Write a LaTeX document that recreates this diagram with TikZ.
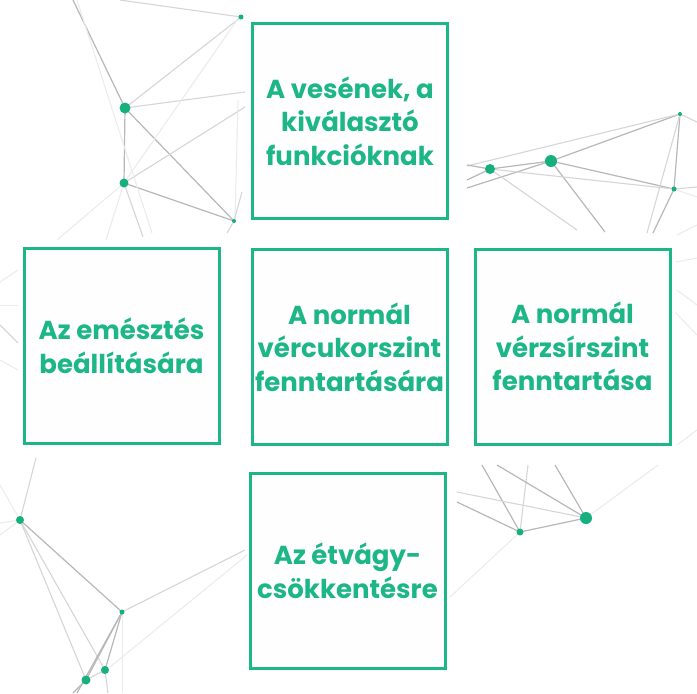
\documentclass[tikz,border=0pt]{standalone}
\usepackage{fontspec}
\setmainfont{Poppins}[BoldFont={Poppins Bold}]
\definecolor{mint}{RGB}{28,182,135}
\definecolor{dotc}{RGB}{22,176,126}
\definecolor{boxfill}{RGB}{254,254,254}
\tikzset{
  net/.style={draw=black!28,line width=0.6pt},
  netl/.style={draw=black!16,line width=0.55pt},
  netf/.style={draw=black!8,line width=0.5pt},
  hub/.style={fill=dotc,draw=none},
  card/.style={draw=mint,line width=1.5pt,fill=boxfill,minimum width=97.5pt,minimum height=97.5pt,
    align=center,text=mint,font=\fontsize{13}{16.8}\selectfont\bfseries,inner sep=0pt},
}
\begin{document}
\begin{tikzpicture}[x=0.5pt,y=-0.5pt]
\fill[white] (0,0) rectangle (697,693);
\useasboundingbox (0,0) rectangle (697,693);
% ---- top-left cluster
\coordinate (A) at (125,108);
\coordinate (B) at (124,183);
\coordinate (C) at (234,221);
\coordinate (D) at (241,17);
\draw[net] (73,0) -- (A);
\draw[netl] (120,0) -- (D);
\draw[netl] (A) -- (D);
\draw[netl] (A) -- (245,92);
\draw[net] (A) -- (B);
\draw[net] (A) -- (C);
\draw[net] (B) -- (C);
\draw[netl] (B) -- (245,107);
\draw[netf] (77,0) -- (152,233);
\draw[netf] (237,20) -- (B);
\draw[netf] (B) -- (57,240);
\draw[netf] (B) -- (106,240);
\draw[netl] (B) -- (143,237);
\draw[netf] (238,100) -- (235,220);
\draw[netl] (C) -- (242,192);
\draw[netl] (C) -- (227,233);
% ---- top-right cluster
\coordinate (E) at (490,169);
\coordinate (F) at (551,161);
\coordinate (G) at (680,114);
\coordinate (H) at (674,189);
\draw[net] (E) -- (F);
\draw[net] (F) -- (G);
\draw[netl] (467,166) -- (G);
\draw[net] (467,165) -- (E);
\draw[net] (E) -- (467,180);
\draw[net] (F) -- (467,188);
\draw[net] (F) -- (605,232);
\draw[netl] (E) -- (577,230);
\draw[net] (F) -- (H);
\draw[netl] (E) -- (H);
\draw[net] (G) -- (H);
\draw[netl] (G) -- (647,233);
\draw[net] (H) -- (653,233);
\draw[netl] (G) -- (697,122);
\draw[netl] (H) -- (697,187);
\draw[netf] (H) -- (697,197);
% right edge
\draw[netf] (677,235) -- (697,225);
\draw[netf] (676,262) -- (697,258);
\draw[netf] (677,290) -- (697,305);
\draw[netf] (675,312) -- (697,335);
\draw[netf] (677,445) -- (697,430);
% left edge
\draw[netf] (0,282) -- (18,270);
\draw[netf] (0,305) -- (18,305);
\draw[netl] (0,325) -- (18,343);
\draw[netf] (0,360) -- (18,370);
% ---- bottom-right cluster
\coordinate (I) at (520,532);
\coordinate (J) at (586,518);
\draw[net] (I) -- (J);
\draw[net] (I) -- (482,465);
\draw[netl] (I) -- (528,465);
\draw[net] (J) -- (497,465);
\draw[net] (J) -- (555,465);
\draw[netl] (J) -- (457,492);
\draw[net] (I) -- (457,502);
\draw[netf] (J) -- (658,465);
\draw[netf] (I) -- (450,597);
% ---- bottom-left cluster
\coordinate (K) at (20,520);
\coordinate (L) at (122,612);
\coordinate (M) at (105,670);
\coordinate (N) at (86,680);
\draw[netl] (K) -- (36,458);
\draw[netf] (K) -- (0,485);
\draw[netf] (K) -- (0,523);
\draw[netf] (K) -- (0,535);
\draw[net] (K) -- (L);
\draw[netl] (K) -- (N);
\draw[netl] (K) -- (M);
\draw[netl] (L) -- (245,550);
\draw[netf] (110,667) -- (247,555);
\draw[net] (L) -- (N);
\draw[net] (L) -- (M);
\draw[netf] (L) -- (122,693);
\draw[net] (N) -- (73,693);
\draw[netl] (M) -- (108,693);
\draw[net] (L) -- (77,693);
\draw[netl] (N) -- (M);
% ---- dots
\fill[hub] (A) circle (5.5);
\fill[hub] (B) circle (4.5);
\fill[hub] (C) circle (2);
\fill[hub] (D) circle (2.5);
\fill[hub] (E) circle (5);
\fill[hub] (F) circle (6);
\fill[hub] (G) circle (2);
\fill[hub] (H) circle (2.5);
\fill[hub] (I) circle (3.5);
\fill[hub] (J) circle (6);
\fill[hub] (K) circle (4);
\fill[hub] (L) circle (2.5);
\fill[hub] (M) circle (4);
\fill[hub] (N) circle (4.5);
% ---- boxes
\node[card] (kidney) at (350,121) {A vesének, a\\kiválasztó\\funkcióknak};
\node[card] (digest) at (121.5,346) {Az emésztés\\beállítására};
\node[card] (sugar)  at (349.5,347) {A normál\\vércukorszint\\fenntartására};
\node[card] (lipid)  at (572.5,346.5) {A normál\\vérzsírszint\\fenntartása};
\node[card] (appet)  at (347.5,570.5) {Az étvágy-\\csökkentésre};
\end{tikzpicture}
\end{document}
